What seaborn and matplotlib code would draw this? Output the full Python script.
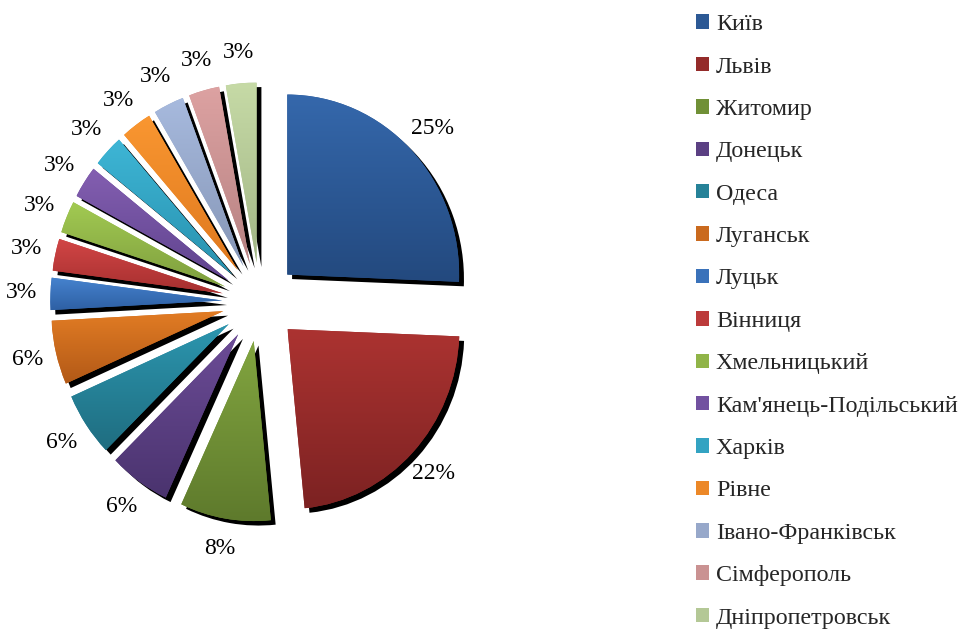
import numpy as np
import matplotlib.pyplot as plt
import matplotlib.colors as mcolors
from matplotlib.patches import Patch
import seaborn as sns

cities = ["Київ", "Львів", "Житомир", "Донецьк", "Одеса", "Луганськ", "Луцьк",
          "Вінниця", "Хмельницький", "Кам'янець-Подільський", "Харків", "Рівне",
          "Івано-Франківськ", "Сімферополь", "Дніпропетровськ"]
# shown values (%); the slice angles use their own sum, as in the original
shares = [25.0, 22.2, 8.3, 5.6, 5.6, 5.6, 2.8, 2.8, 2.8, 2.8, 2.8, 2.8, 2.8, 2.8, 2.8]

# gradient ends for each slice (top -> bottom), Excel-like look
top_colors = ["#3568AC", "#AC3331", "#82A540", "#6C4C97", "#2C96AF", "#E27C24",
              "#4683CF", "#D24646", "#A2CA52", "#845FB1", "#3EB6D6", "#FA9731",
              "#A7BADE", "#DDA2A2", "#C6DAA6"]
bottom_colors = ["#23497E", "#7C2222", "#5E7A2C", "#4A336E", "#1F6D80", "#B25917",
                 "#2E60A4", "#A62F2F", "#7E9E3E", "#5F438E", "#2891AE", "#DE781E",
                 "#8696B6", "#B68282", "#A2B686"]
mid_colors = [tuple((np.array(mcolors.to_rgb(a)) + np.array(mcolors.to_rgb(b))) / 2)
              for a, b in zip(top_colors, bottom_colors)]

sns.set_style("white")
plt.rcParams['font.family'] = ['Liberation Serif', 'DejaVu Serif']

fig = plt.figure(figsize=(9.6, 6.3), dpi=100)
ax = fig.add_axes([-15 / 960, 40 / 630, 550 / 960, 576 / 630])

explode = [0.22] * len(shares)
total = sum(shares)

# black drop shadow
ax.pie(shares, explode=explode, startangle=90, counterclock=False,
       colors=['black'] * len(shares), center=(0.028, -0.025),
       wedgeprops=dict(linewidth=0))

wedges, texts, autotexts = ax.pie(
    shares, explode=explode, startangle=90, counterclock=False,
    colors=mid_colors, autopct=lambda p: f"{p * total / 100:.0f}%",
    pctdistance=1.17, wedgeprops=dict(linewidth=0),
    textprops=dict(fontsize=17, color='black'))

# vertical gradient inside every wedge
grad = np.linspace(0, 1, 256).reshape(-1, 1)
for w, c0, c1 in zip(wedges, top_colors, bottom_colors):
    bb = w.get_path().get_extents()
    cmap = mcolors.LinearSegmentedColormap.from_list('g', [c1, c0])
    im = ax.imshow(grad, cmap=cmap, extent=[bb.x0, bb.x1, bb.y0, bb.y1],
                   origin='lower', aspect='auto', zorder=w.get_zorder() + 0.1)
    im.set_clip_path(w)

ax.set_xlim(-1.6, 1.6)
ax.set_ylim(-1.6, 1.6)
ax.set_aspect('auto')
ax.axis('off')

handles = [Patch(facecolor=c, edgecolor='none') for c in mid_colors]
fig.legend(handles, cities, loc='upper left', bbox_to_anchor=(0.7245, 0.9775),
           frameon=False, fontsize=17.3, labelspacing=0.89, handlelength=0.55,
           handleheight=0.55, handletextpad=0.3, borderaxespad=0, borderpad=0)

fig.savefig("out.png", dpi=100)
